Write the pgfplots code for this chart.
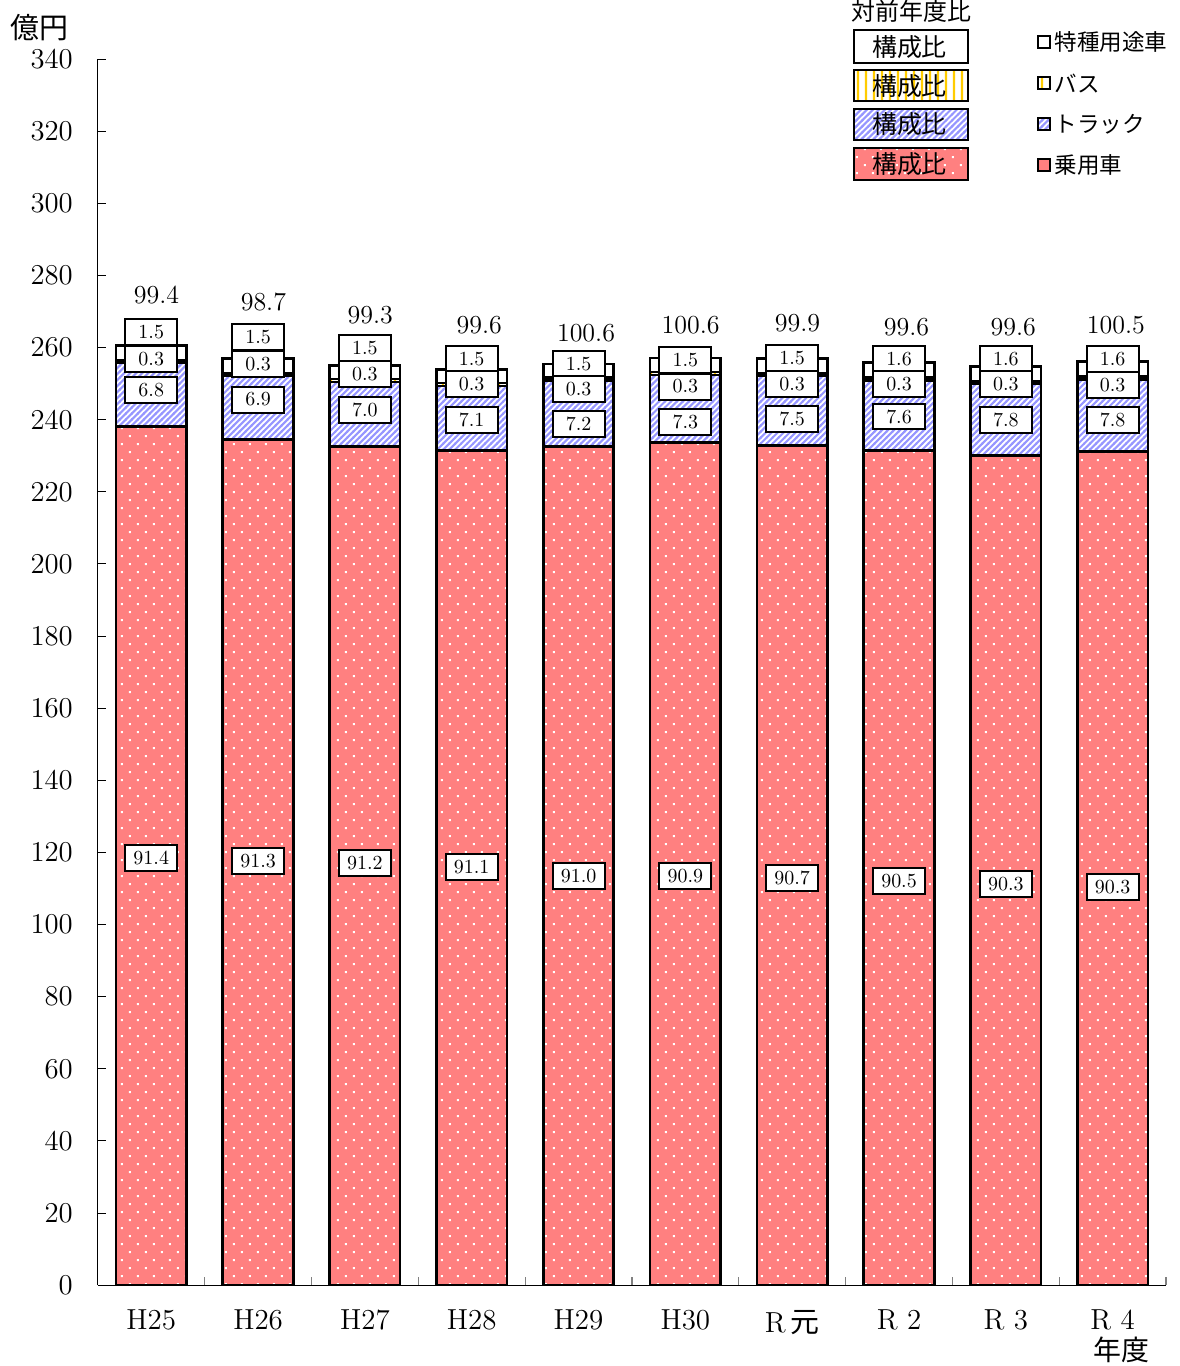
\documentclass[border=0pt]{standalone}
\usepackage{fontspec}
\newfontfamily\jp{Noto Sans CJK JP}
\usepackage{pgfplots}
\pgfplotsset{compat=1.18}
\usetikzlibrary{patterns}

\definecolor{carred}{RGB}{255,128,128}
\definecolor{truckblue}{RGB}{150,150,255}
\definecolor{busyellow}{RGB}{255,204,0}

\pgfdeclarepatternformonly{sparsedots}{\pgfpointorigin}{\pgfqpoint{8pt}{8pt}}{\pgfqpoint{8pt}{8pt}}{
  \pgfpathrectangle{\pgfqpoint{1pt}{1pt}}{\pgfqpoint{1pt}{1pt}}
  \pgfpathrectangle{\pgfqpoint{5pt}{5pt}}{\pgfqpoint{1pt}{1pt}}
  \pgfusepath{fill}
}
\pgfdeclarepatternformonly{hatch}{\pgfqpoint{-0.5pt}{-0.5pt}}{\pgfqpoint{3.5pt}{3.5pt}}{\pgfqpoint{3pt}{3pt}}{
  \pgfsetlinewidth{1.05pt}
  \pgfpathmoveto{\pgfqpoint{-0.5pt}{-0.5pt}}
  \pgfpathlineto{\pgfqpoint{3.5pt}{3.5pt}}
  \pgfusepath{stroke}
}
\pgfdeclarepatternformonly{vstripes}{\pgfpointorigin}{\pgfqpoint{4pt}{4pt}}{\pgfqpoint{4pt}{4pt}}{
  \pgfpathrectangle{\pgfqpoint{1.4pt}{0pt}}{\pgfqpoint{1.2pt}{4pt}}
  \pgfusepath{fill}
}

\begin{document}
\begin{tikzpicture}
\pgfplotsset{
  base/.style={width=535pt, height=614pt, scale only axis,
    xmin=-0.5, xmax=9.5, ymin=0, ymax=340, clip=false}
}
\begin{axis}[base,
  ybar stacked, bar width=0.66,
  axis x line*=bottom, axis y line*=left,
  axis line style={black, line width=0.6pt},
  ytick={0,20,...,340},
  xtick={0,...,9},
  xticklabels={H25,H26,H27,H28,H29,H30,
    {\raisebox{-2.5pt}{R\,{\jp 元}}},{\raisebox{-2.5pt}{R\ 2}},
    {\raisebox{-2.5pt}{R\ 3}},{\raisebox{-2.5pt}{R\ 4}}},
  minor xtick={0.5,1.5,...,9.5},
  tick align=inside,
  major tick length=4pt, minor tick length=4pt,
  major x tick style={draw=none},
  minor x tick style={gray, line width=0.6pt},
  ytick style={black, line width=0.5pt},
  tick label style={font=\fontsize{14.5}{17}\selectfont},
  xticklabel style={yshift=-9pt},
  yticklabel style={xshift=-9pt},
]
% 乗用車
\addplot[draw=black, line width=1.35pt, preaction={fill=carred},
  pattern=sparsedots, pattern color=white] coordinates {
  (0,238.1) (1,234.5) (2,232.6) (3,231.4) (4,232.5)
  (5,233.6) (6,232.9) (7,231.5) (8,230.0) (9,231.2)};
% トラック
\addplot[draw=black, line width=1.35pt, preaction={fill=white},
  pattern=hatch, pattern color=truckblue] coordinates {
  (0,17.7) (1,17.7) (2,17.9) (3,18.0) (4,18.4)
  (5,18.8) (6,19.3) (7,19.4) (8,19.9) (9,20.0)};
% バス
\addplot[draw=black, line width=1.35pt, preaction={fill=white},
  pattern=vstripes, pattern color=busyellow] coordinates {
  (0,0.8) (1,0.8) (2,0.8) (3,0.8) (4,0.8)
  (5,0.8) (6,0.8) (7,0.8) (8,0.8) (9,0.8)};
% 特種用途車
\addplot[draw=black, line width=1.35pt, fill=white] coordinates {
  (0,3.9) (1,3.9) (2,3.8) (3,3.8) (4,3.8)
  (5,3.9) (6,3.9) (7,4.1) (8,4.1) (9,4.1)};
\end{axis}

\begin{axis}[base, hide axis]
% 構成比ラベル
\addplot[draw=none, mark=none, nodes near coords, point meta=explicit symbolic,
  every node near coord/.append style={anchor=center, draw=black, line width=1pt,
    fill=white, minimum width=26pt, minimum height=13pt, inner sep=0pt,
    font=\fontsize{10}{12}\selectfont}]
  table[meta=lab] {
x y lab
0 264.4 1.5
0 256.9 0.3
0 248.3 6.8
0 118.5 91.4
1 263.0 1.5
1 255.5 0.3
1 245.6 6.9
1 117.7 91.3
2 260.0 1.5
2 252.8 0.3
2 242.8 7.0
2 117.1 91.2
3 256.9 1.5
3 250.0 0.3
3 240.0 7.1
3 116.0 91.1
4 255.5 1.5
4 248.6 0.3
4 238.9 7.2
4 113.5 91.0
5 256.6 1.5
5 249.2 0.3
5 239.5 7.3
5 113.5 90.9
6 257.2 1.5
6 250.0 0.3
6 240.3 7.5
6 113.0 90.7
7 256.9 1.6
7 250.0 0.3
7 240.9 7.6
7 112.1 90.5
8 256.9 1.6
8 250.0 0.3
8 240.0 7.8
8 111.3 90.3
9 256.9 1.6
9 249.7 0.3
9 240.0 7.8
9 110.5 90.3
};
% 対前年度比
\addplot[draw=none, mark=none, nodes near coords, point meta=explicit symbolic,
  every node near coord/.append style={anchor=center, inner sep=0pt,
    font=\fontsize{13}{15}\selectfont}]
  table[meta=lab] {
x y lab
0.05 274.6 99.4
1.05 272.7 98.7
2.05 269.1 99.3
3.07 266.1 99.6
4.07 264.1 100.6
5.05 266.3 100.6
6.05 266.9 99.9
7.07 265.8 99.6
8.07 265.8 99.6
9.03 266.1 100.5
};
\end{axis}

% 単位・軸タイトル
\node[anchor=base west, inner sep=0pt, font=\jp\fontsize{14.5}{17}\selectfont] at (-44pt,624.5pt) {億円};
\node[anchor=base west, inner sep=0pt, font=\jp\fontsize{14}{16}\selectfont] at (498.5pt,-37.5pt) {年度};

% 凡例
\node[anchor=base, inner sep=0pt, font=\jp\fontsize{12}{14}\selectfont] at (407.5pt,633.5pt) {対前年度比};
\draw[line width=1pt, fill=white] (378.5pt,612pt) rectangle (436pt,628.5pt);
\draw[line width=1pt, preaction={fill=white}, pattern=vstripes, pattern color=busyellow] (378.5pt,593pt) rectangle (436pt,608.5pt);
\draw[line width=1pt, preaction={fill=white}, pattern=hatch, pattern color=truckblue] (378.5pt,573.5pt) rectangle (436pt,589pt);
\draw[line width=1pt, preaction={fill=carred}, pattern=sparsedots, pattern color=white] (378.5pt,553.5pt) rectangle (436pt,569.5pt);
\foreach \yy in {620.25,600.75,581.25,561.5}
  \node[inner sep=0pt, font=\jp\fontsize{12.5}{14}\selectfont] at (406.5pt,\yy pt) {構成比};

\draw[line width=1pt, fill=white] (471pt,619.5pt) rectangle (477pt,625.5pt);
\draw[line width=1pt, preaction={fill=white}, pattern=vstripes, pattern color=busyellow] (471pt,599pt) rectangle (477pt,605pt);
\draw[line width=1pt, preaction={fill=white}, pattern=hatch, pattern color=truckblue] (471pt,578.5pt) rectangle (477pt,584.5pt);
\draw[line width=1pt, fill=carred] (471pt,558pt) rectangle (477pt,564pt);
\node[anchor=west, inner sep=0pt, font=\jp\fontsize{11.3}{13}\selectfont] at (479pt,622.5pt) {特種用途車};
\node[anchor=west, inner sep=0pt, font=\jp\fontsize{11.3}{13}\selectfont] at (479pt,602pt) {バス};
\node[anchor=west, inner sep=0pt, font=\jp\fontsize{11.3}{13}\selectfont] at (479pt,581.5pt) {トラック};
\node[anchor=west, inner sep=0pt, font=\jp\fontsize{11.3}{13}\selectfont] at (479pt,561pt) {乗用車};

\path[use as bounding box] (-49pt,-40.5pt) rectangle (541.5pt,642.5pt);
\end{tikzpicture}
\end{document}
